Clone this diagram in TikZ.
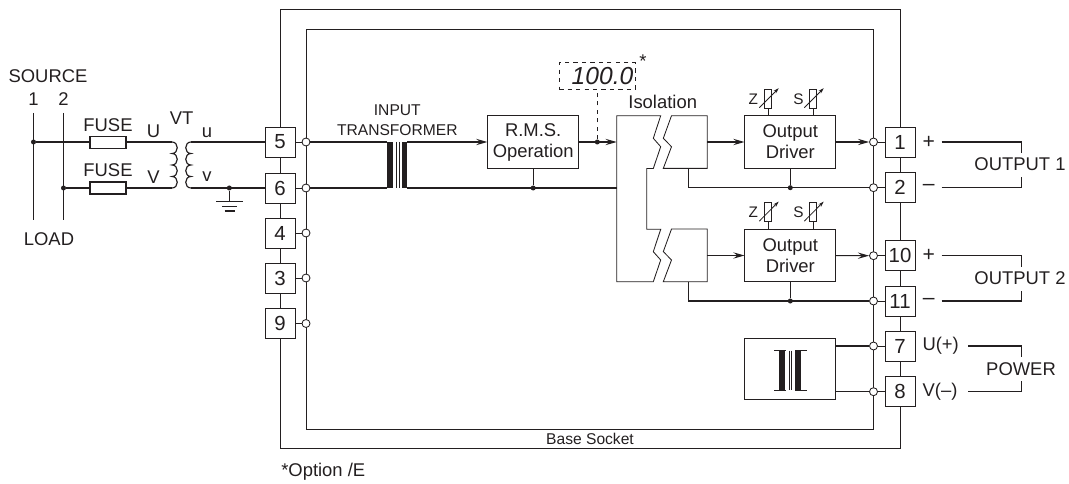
\documentclass[tikz,border=0pt]{standalone}
\usepackage{fontspec}
\setmainfont{Liberation Sans}
\usetikzlibrary{arrows.meta}

\definecolor{inkdark}{HTML}{231F20}

\tikzset{
  wire/.style = {draw=inkdark, line width=0.8pt},
  thinline/.style = {draw=inkdark, line width=0.6pt},
  flowarrow/.style = {wire, -{Stealth[length=8pt,width=4.5pt,inset=3pt]}},
  terminal/.style = {draw=inkdark, line width=0.6pt, fill=white, minimum width=0.75cm, minimum height=0.75cm, inner sep=0pt, font=\fontsize{14.5}{16}\selectfont, text=inkdark},
  opencirc/.style = {circle, draw=inkdark, line width=0.6pt, fill=white, minimum size=0.2cm, inner sep=0pt},
  joint/.style = {circle, fill=inkdark, minimum size=0.125cm, inner sep=0pt},
  blockbox/.style = {draw=inkdark, line width=0.6pt, fill=white, minimum width=2.27cm, minimum height=1.32cm, inner sep=0pt, align=center, font=\fontsize{13.1}{15}\selectfont, text=inkdark},
  fusebox/.style = {draw=inkdark, line width=0.8pt, fill=white, minimum width=0.9cm, minimum height=0.3cm, inner sep=0pt},
  txt/.style = {inner sep=0pt, text=inkdark, font=\fontsize{13.1}{15}\selectfont},
  signtxt/.style = {inner sep=0pt, text=inkdark, font=\fontsize{15}{17}\selectfont},
  smalltxt/.style = {inner sep=0pt, text=inkdark, align=center, font=\fontsize{11.1}{13}\selectfont},
  adjtxt/.style = {inner sep=0pt, text=inkdark, font=\fontsize{10.9}{12}\selectfont},
  varres/.pic = {
    \draw [thinline] (-3.8, -26.5) rectangle (3.8, -7.5);
    \draw [thinline] (0, -7.5) -- (0, 0);
    \draw [thinline, -{Stealth[length=4pt,width=2.5pt]}] (-8.7, -8) -- (10.7, -27.5);
  },
  pcoil/.pic = {
    \draw [wire] (0, 0) .. controls (7, 0) and (7, 11.5) .. (0, 11.5)
      .. controls (7, 11.5) and (7, 23) .. (0, 23)
      .. controls (7, 23) and (7, 34.5) .. (0, 34.5)
      .. controls (7, 34.5) and (7, 46) .. (0, 46);
  },
  scoil/.pic = {
    \draw [wire] (0, 0) .. controls (-7, 0) and (-7, 11.5) .. (0, 11.5)
      .. controls (-7, 11.5) and (-7, 23) .. (0, 23)
      .. controls (-7, 23) and (-7, 34.5) .. (0, 34.5)
      .. controls (-7, 34.5) and (-7, 46) .. (0, 46);
  },
}

\begin{document}
\begin{tikzpicture}[x=0.025cm, y=-0.025cm]
    \useasboundingbox (0, 0) rectangle (1069, 484);

    % base socket and inner frame
    \draw [thinline] (280, 9.5) rectangle (900, 448.3);
    \draw [thinline] (306, 29) rectangle (873.5, 429.3);
    \node[smalltxt] (socketlabel) at (590, 439.3) {Base Socket};
    \node[txt, anchor=west] (optionlabel) at (281, 471.7) {*Option /E};

    % terminals on the left
    \foreach \n/\y in {5/142, 6/188, 4/233, 3/278, 9/323.5} {
      \node[terminal] (term\n) at (280, \y) {\n};
      \node[opencirc] (circ\n) at (306, \y) {};
      \draw [thinline] (circ\n) -- (term\n);
    }
    % terminals on the right
    \foreach \n/\y in {1/142, 2/187.7, 10/255.7, 11/301, 7/346, 8/391.7} {
      \node[terminal] (term\n) at (900, \y) {\n};
      \node[opencirc] (circ\n) at (873.5, \y) {};
      \draw [thinline] (circ\n) -- (term\n);
    }

    % source side
    \node[txt] (source) at (48, 75.7) {SOURCE};
    \node[txt] (srcone) at (33.5, 99) {1};
    \node[txt] (srctwo) at (63.5, 99) {2};
    \node[txt] (load) at (49, 238.7) {LOAD};
    \coordinate (lineonetop) at (33.5, 113);
    \coordinate (lineonebot) at (33.5, 220);
    \coordinate (linetwotop) at (63.5, 113);
    \coordinate (linetwobot) at (63.5, 220);
    \draw [wire] (lineonetop) -- (lineonebot);
    \draw [wire] (linetwotop) -- (linetwobot);
    \node[joint] (jointu) at (33.5, 142) {};
    \node[joint] (jointv) at (63.5, 188) {};
    \coordinate (primu) at (172, 142);
    \coordinate (primv) at (172, 188);
    \coordinate (secu) at (191, 142);
    \coordinate (secv) at (191, 188);
    \draw [wire] (jointu) -- (primu);
    \draw [wire] (jointv) -- (primv);
    \node[fusebox] (fuseu) at (108, 142.5) {};
    \node[fusebox] (fusev) at (108, 188) {};
    \node[txt] (fuseulabel) at (108, 125) {FUSE};
    \node[txt] (fusevlabel) at (108, 170) {FUSE};
    \node[txt] (ulabel) at (153.5, 131.5) {U};
    \node[txt] (vlabel) at (153.5, 176.7) {V};
    \node[txt] (vtlabel) at (181.7, 118) {VT};
    \node[txt] (smallu) at (207, 133) {u};
    \node[txt] (smallv) at (207, 177) {v};
    \pic at (172, 142) {pcoil};
    \pic at (191, 142) {scoil};
    \draw [wire] (secu) -- (term5);
    \draw [wire] (secv) -- (term6);

    % earth
    \node[joint] (jointe) at (229.3, 188) {};
    \coordinate (earth) at (229.3, 201.7);
    \draw [wire] (jointe) -- (earth);
    \draw [wire] (216, 201.7) -- (243, 201.7);
    \draw [wire] (222, 206.3) -- (237, 206.3);
    \draw [wire] (224.7, 211) -- (234.7, 211);

    % input transformer
    \node[smalltxt] (inputlabel) at (397.3, 120) {INPUT\\[1.5pt]TRANSFORMER};
    \fill [inkdark] (387.3, 142) rectangle (392.7, 188);
    \fill [inkdark] (402, 142) rectangle (407.3, 188);
    \draw [thinline] (396.7, 142) -- (396.7, 188);
    \draw [thinline] (399.3, 142) -- (399.3, 188);
    \coordinate (barlefttop) at (387.3, 142);
    \coordinate (barleftbot) at (387.3, 188);
    \coordinate (barrighttop) at (407.3, 142);
    \coordinate (barrightbot) at (407.3, 188);
    \draw [wire] (circ5) -- (barlefttop);
    \draw [wire] (circ6) -- (barleftbot);

    % r.m.s. block and display
    \node[blockbox] (rms) at (533.2, 142.2) {R.M.S.\\Operation};
    \draw [flowarrow] (barrighttop) -- (rms.west |- barrighttop);
    \node[joint] (jointrms) at (533.2, 188) {};
    \draw [thinline] (rms) -- (jointrms);
    \coordinate (isoin) at (616.7, 142);
    \coordinate (isobot) at (616.7, 188);
    \draw [wire] (barrightbot) -- (isobot);
    \node[joint] (jointdisp) at (597.3, 142) {};
    \draw [flowarrow] (rms.east |- isoin) -- (isoin);
    \node[draw=inkdark, dashed, line width=0.6pt, minimum width=1.9cm, minimum height=0.665cm, inner sep=0pt] (display) at (597.3, 76) {};
    \node[inner sep=0pt, text=inkdark, font=\fontsize{17.5}{19}\selectfont\itshape] (displaytext) at (602.5, 76.5) {100.0};
    \node[txt] (displaystar) at (643, 61) {*};
    \draw [thinline, dashed] (jointdisp) -- (display);

    % isolation
    \node[txt] (isolabel) at (662.7, 101.7) {Isolation};
    \draw [thinline] (616.7, 115.7) -- (660.7, 115.7) -- (653.3, 138.3) -- (660.7, 146.7) -- (653.3, 168.5)
      -- (646.7, 168.5) -- (646.7, 229.3) -- (660.7, 229.3) -- (653.3, 251.7) -- (660.7, 260)
      -- (653.3, 281.7) -- (616.7, 281.7) -- cycle;
    \foreach \s in {0, 113.3} {
      \draw [thinline] (671.5, 115.7+\s) -- (707.3, 115.7+\s) -- (707.3, 168.4+\s) -- (663.3, 168.4+\s)
        -- (671.5, 146.7+\s) -- (663.3, 138.3+\s) -- cycle;
    }

    % output drivers
    \node[blockbox] (driverone) at (790.3, 142) {Output\\Driver};
    \node[blockbox] (drivertwo) at (790.3, 255.5) {Output\\Driver};
    \coordinate (isooutone) at (707.3, 142);
    \coordinate (isoouttwo) at (707.3, 255.5);
    \draw [flowarrow] (isooutone) -- (driverone);
    \draw [flowarrow] (isoouttwo) -- (drivertwo);
    \draw [flowarrow] (driverone) -- (circ1);
    \draw [flowarrow] (drivertwo) -- (circ10);
    \coordinate (stubone) at (688.3, 168.4);
    \coordinate (stubtwo) at (688.3, 281.7);
    \draw [wire] (stubone) |- (circ2);
    \draw [wire] (stubtwo) |- (circ11);
    \node[joint] (jointone) at (790.3, 187.7) {};
    \node[joint] (jointtwo) at (790.3, 301) {};
    \draw [wire] (driverone) -- (jointone);
    \draw [wire] (drivertwo) -- (jointtwo);
    \foreach \s in {0, 113.4} {
      \pic at (768, 115.7+\s) {varres};
      \pic at (813, 115.7+\s) {varres};
    }
    \node[adjtxt] (zone) at (753.3, 99) {Z};
    \node[adjtxt] (sone) at (798.5, 99) {S};
    \node[adjtxt] (ztwo) at (753.3, 212.4) {Z};
    \node[adjtxt] (stwo) at (798.5, 212.4) {S};

    % power block
    \node[blockbox, minimum height=1.525cm] (powerbox) at (790.3, 368.8) {};
    \draw [wire] (powerbox.east |- circ7) -- (circ7);
    \draw [wire] (powerbox.east |- circ8) -- (circ8);
    \fill [inkdark] (779.3, 350.7) rectangle (785.3, 390);
    \fill [inkdark] (795, 350.7) rectangle (801.3, 390);
    \draw [thinline] (774, 350.7) -- (786, 350.7);
    \draw [thinline] (774, 390) -- (786, 390);
    \draw [thinline] (795, 350.7) -- (807.3, 350.7);
    \draw [thinline] (795, 390) -- (807.3, 390);
    \draw [thinline] (789.3, 350.7) -- (789.3, 390);
    \draw [thinline] (791.3, 350.7) -- (791.3, 390);

    % outputs
    \node[signtxt] (plusone) at (928.7, 142) {+};
    \node[signtxt] (minusone) at (928.7, 187.7) {--};
    \node[signtxt] (plustwo) at (928.7, 255.7) {+};
    \node[signtxt] (minustwo) at (928.7, 301) {--};
    \node[txt] (uplus) at (940.7, 346) {U(+)};
    \node[txt] (vminus) at (940, 391.7) {V(--)};
    \node[txt] (outone) at (1020, 164.3) {OUTPUT 1};
    \node[txt] (outtwo) at (1020, 278) {OUTPUT 2};
    \node[txt] (powerlabel) at (1021, 368.7) {POWER};
    \foreach \from/\y/\stop in {941.7/142/153, 941.7/187.7/177.3, 941.7/255.7/267, 941.7/301/290.7, 968.3/346/356.7, 968.3/391.7/381} {
      \draw [wire] (\from, \y) -- (1021.7, \y) -- (1021.7, \stop);
    }
\end{tikzpicture}
\end{document}
